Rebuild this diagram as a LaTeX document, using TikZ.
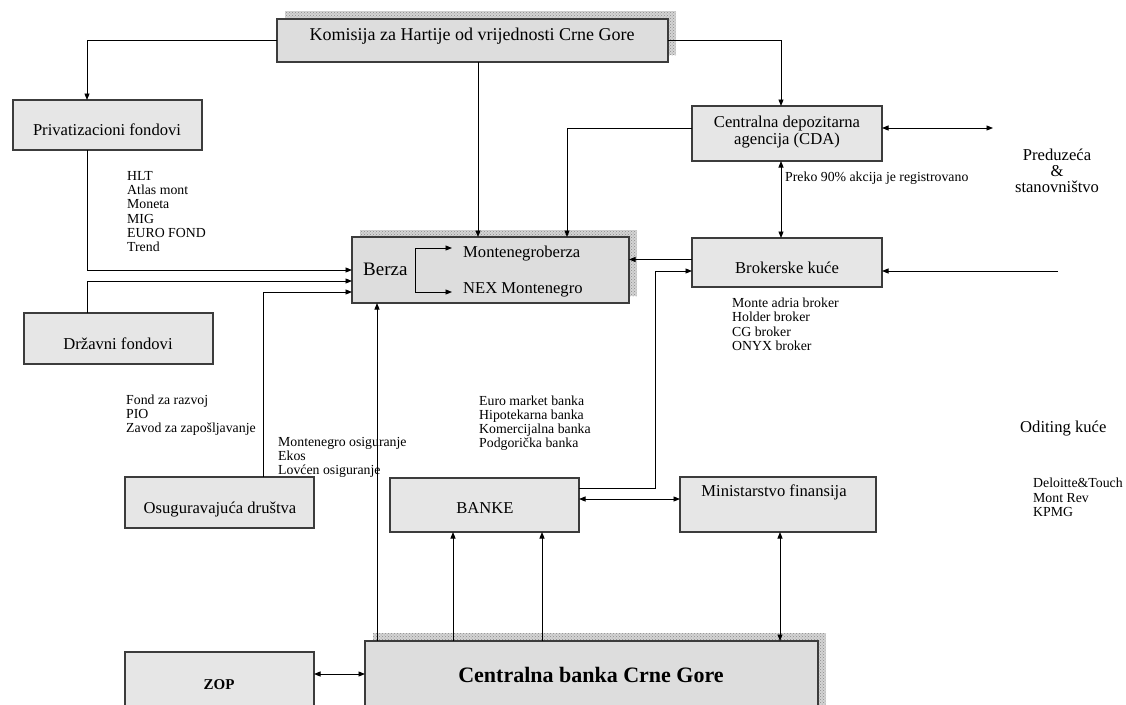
\documentclass[tikz,border=0pt]{standalone}
\usepackage{fontspec}
\setmainfont{Liberation Serif}
\usetikzlibrary{arrows.meta,patterns}
\definecolor{boxfill}{RGB}{230,230,230}
\definecolor{sboxfill}{RGB}{221,221,221}
\definecolor{bordercol}{RGB}{60,60,60}
\definecolor{shadowcol}{RGB}{212,212,212}
\definecolor{shadowdot}{RGB}{140,140,140}
\begin{document}
\begin{tikzpicture}[x=1pt,y=-1pt,
  box/.style={draw=bordercol, line width=1.1pt, fill=boxfill, inner sep=0pt, outer sep=0pt, anchor=north west},
  sbox/.style={box, fill=sboxfill},
  lab/.style={inner sep=0pt, anchor=base, font=\fontsize{16.6}{18}\selectfont},
  small/.style={inner sep=0pt, anchor=base west, font=\fontsize{13.8}{14}\selectfont},
  arr/.style={line width=0.9pt, -{Triangle[length=6.5pt,width=5pt]}},
  darr/.style={line width=0.9pt, {Triangle[length=6.5pt,width=5pt]}-{Triangle[length=6.5pt,width=5pt]}},
  shadowbg/.style={fill=shadowcol},
  shadowpat/.style={pattern=crosshatch dots, pattern color=shadowdot}]
\clip (0,0) rectangle (1126,704);
\fill[white] (0,0) rectangle (1126,704);

% shadows
\foreach \a/\b/\c/\d in {285/11/676/55, 360/230/637/296, 373/633/826/720}{
  \fill[shadowbg] (\a,\b) rectangle (\c,\d);
  \fill[shadowpat] (\a,\b) rectangle (\c,\d);
}

% boxes
\node[sbox, minimum width=391pt, minimum height=43pt] (kom) at (277,19) {};
\node[box, minimum width=189pt, minimum height=50pt] (priv) at (13,100) {};
\node[box, minimum width=189pt, minimum height=51pt] (drz) at (24,313) {};
\node[box, minimum width=189pt, minimum height=51pt] (osig) at (125,477) {};
\node[sbox, minimum width=277pt, minimum height=66pt] (berza) at (352,237) {};
\node[box, minimum width=190pt, minimum height=55pt] (cda) at (692,106) {};
\node[box, minimum width=190pt, minimum height=49pt] (brok) at (692,238) {};
\node[box, minimum width=189pt, minimum height=54pt] (banke) at (390,478) {};
\node[box, minimum width=196pt, minimum height=55pt] (min) at (680,477) {};
\node[sbox, minimum width=453pt, minimum height=80pt] (cb) at (365,641) {};
\node[box, minimum width=189pt, minimum height=70pt] (zop) at (125,652) {};

% box labels
\node[lab, font=\fontsize{18}{20}\selectfont] (kom-t) at (472,40) {Komisija za Hartije od vrijednosti Crne Gore};
\node[lab] (priv-t) at (107,135) {Privatizacioni fondovi};
\node[lab] (drz-t) at (118,349) {Državni fondovi};
\node[lab] (osig-t) at (220,513) {Osuguravajuća društva};
\node[lab, anchor=base west, font=\fontsize{19}{21}\selectfont] (berza-t) at (363,275) {Berza};
\node[lab, anchor=base west] (mb-t) at (463,257) {Montenegroberza};
\node[lab, anchor=base west] (nex-t) at (463,293) {NEX Montenegro};
\node[lab] (cda-t1) at (787,127) {Centralna depozitarna};
\node[lab] (cda-t2) at (787,144) {agencija (CDA)};
\node[lab] (brok-t) at (787,273) {Brokerske kuće};
\node[lab] (banke-t) at (485,513) {BANKE};
\node[lab] (min-t) at (774,496) {Ministarstvo finansija};
\node[lab, font=\fontsize{22}{24}\selectfont\bfseries] (cb-t) at (591,682) {Centralna banka Crne Gore};
\node[lab, font=\fontsize{15}{17}\selectfont\bfseries] (zop-t) at (219,689) {ZOP};
\node[lab] (pr1) at (1057,160) {Preduzeća};
\node[lab] (pr2) at (1057,176) {\&};
\node[lab] (pr3) at (1057,192) {stanovništvo};
\node[lab, anchor=base west] (odit) at (1020,432) {Oditing kuće};

% small lists
\node[small] (preko) at (785,181.5) {Preko 90\% akcija je registrovano};
\foreach \t [count=\i from 0] in {HLT, Atlas mont, Moneta, MIG, EURO FOND, Trend}
  \node[small] (hlt\i) at (127,{180.5+14.2*\i}) {\t};
\foreach \t [count=\i from 0] in {Fond za razvoj, PIO, Zavod za zapošljavanje}
  \node[small] (fond\i) at (126,{404.5+14*\i}) {\t};
\foreach \t [count=\i from 0] in {Montenegro osiguranje, Ekos, Lovćen osiguranje}
  \node[small] (osl\i) at (278,{446.5+14*\i}) {\t};
\foreach \t [count=\i from 0] in {Euro market banka, Hipotekarna banka, Komercijalna banka, Podgorička banka}
  \node[small] (bl\i) at (479,{405.5+14*\i}) {\t};
\foreach \t [count=\i from 0] in {Monte adria broker, Holder broker, CG broker, ONYX broker}
  \node[small] (brl\i) at (732,{307.5+14.3*\i}) {\t};
\foreach \t [count=\i from 0] in {Deloitte\&Touch, Mont Rev, KPMG}
  \node[small] (dl\i) at (1033,{487.5+14.5*\i}) {\t};

% connectors
\draw[arr] (kom.west) -| (priv.north -| 87,0);
\draw[arr] (kom.east) -| (cda.north -| 781,0);
\draw[arr] (kom.south -| 478,0) -- (berza.north -| 478,0);
\draw[arr] (priv.south -| 87,0) |- (berza.west |- 0,270);
\draw[arr] (drz.north -| 87,0) |- (berza.west |- 0,281);
\draw[arr] (osig.north -| 263,0) |- (berza.west |- 0,292);
\draw[arr] (cda.west |- 0,128) -| (berza.north -| 567,0);
\coordinate (pe) at (993,128);
\draw[darr] (cda.east |- pe) -- (pe);
\draw[darr] (cda.south -| 781,0) -- (brok.north -| 781,0);
\coordinate (od) at (1058,271);
\draw[arr] (od) -- (brok.east |- od);
\draw[arr] (brok.west |- 0,259.5) -- (berza.east |- 0,259.5);
\coordinate (bk) at (655,488);
\draw[arr] (banke.east |- bk) -- (bk) |- (brok.west |- 0,271);
\draw[darr] (banke.east |- 0,499) -- (min.west |- 0,499);
\draw[arr] (cb.north -| 377,0) -- (berza.south -| 377,0);
\draw[arr] (cb.north -| 453,0) -- (banke.south -| 453,0);
\draw[arr] (cb.north -| 542,0) -- (banke.south -| 542,0);
\draw[darr] (cb.north -| 780,0) -- (min.south -| 780,0);
\draw[darr] (zop.east |- 0,674) -- (cb.west |- 0,674);

% bracket inside Berza
\coordinate (brk) at (415,270);
\coordinate (mbin) at (452,248);
\coordinate (nexin) at (452,292);
\draw[arr] (brk) |- (mbin);
\draw[arr] (brk) |- (nexin);
\end{tikzpicture}
\end{document}
